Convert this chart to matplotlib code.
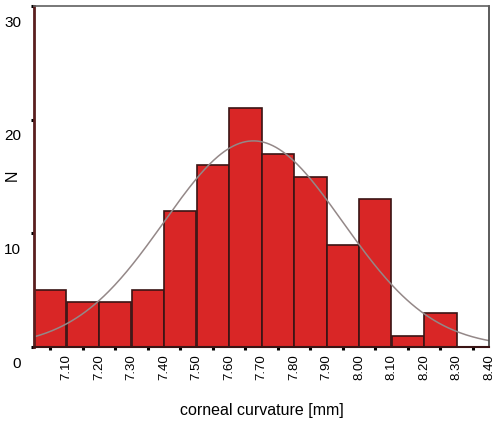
import numpy as np
import matplotlib.pyplot as plt
import matplotlib.transforms as mtransforms

# histogram of corneal curvature, bins of 0.10 mm
bin_edges = [7.00, 7.10, 7.20, 7.30, 7.40, 7.50, 7.60, 7.70, 7.80, 7.90,
             8.00, 8.10, 8.20, 8.30, 8.40]
counts = [5, 4, 4, 5, 12, 16, 21, 17, 15, 9, 13, 1, 3, 0]
edge_labels = ["7.10", "7.20", "7.30", "7.40", "7.50", "7.60", "7.70",
               "7.80", "7.90", "8.00", "8.10", "8.20", "8.30", "8.40"]
y_ticks = [0, 10, 20, 30]

# normal curve fitted to the sample
mean_cc = 7.675
sd_cc = 0.275

plt.rcParams['font.family'] = ['Liberation Sans', 'DejaVu Sans']

fig = plt.figure(figsize=(4.94, 4.29), dpi=100)
ax = fig.add_axes([34/494, 1-347/429, (489-34)/494, (347-6)/429])

edges = np.array(bin_edges)
widths = np.diff(edges)
ax.bar(edges[:-1], counts, width=widths, align='edge',
       color='#d92626', edgecolor='#3a1414', linewidth=1.2)

n = sum(counts)
xs = np.linspace(edges[0], edges[-1], 300)
ys = n * widths[0] / (sd_cc*np.sqrt(2*np.pi)) * np.exp(-0.5*((xs-mean_cc)/sd_cc)**2)
ax.plot(xs, ys, color='#948888', linewidth=1.1)

ax.set_xlim(edges[0], edges[-1])
ax.set_ylim(0, 30)

# labels sit on the bin edges, tick marks on the bin centres
ax.set_xticks(edges[1:])
ax.set_xticklabels(edge_labels, rotation=90, fontsize=9.5)
ax.set_xticks((edges[:-1] + edges[1:]) / 2, minor=True)
ax.tick_params(axis='x', which='major', length=0, pad=5)
ax.tick_params(axis='x', which='minor', length=2.2, width=2.2, color='black')

ax.set_yticks(y_ticks)
ax.set_yticklabels([str(v) for v in y_ticks], fontsize=11)
ax.tick_params(axis='y', length=2.2, width=2.2, color='black', pad=7)
shift = mtransforms.ScaledTranslation(0, -15/100, fig.dpi_scale_trans)
for lab in ax.get_yticklabels():
    lab.set_transform(lab.get_transform() + shift)

ax.spines['left'].set_color('#5a1e1e')
ax.spines['left'].set_linewidth(2)
ax.spines['bottom'].set_color('#3a1414')
ax.spines['bottom'].set_linewidth(1.5)
ax.spines['top'].set_color('#606060')
ax.spines['top'].set_linewidth(1.2)
ax.spines['right'].set_color('#404040')
ax.spines['right'].set_linewidth(1.2)

fig.text(262/494, 1-410/429, 'corneal curvature [mm]', fontsize=11.5,
         ha='center', va='center')
fig.text(12/494, 1-175/429, 'N', fontsize=11.5, rotation=90,
         ha='center', va='center')

fig.savefig('out.png', dpi=100)
